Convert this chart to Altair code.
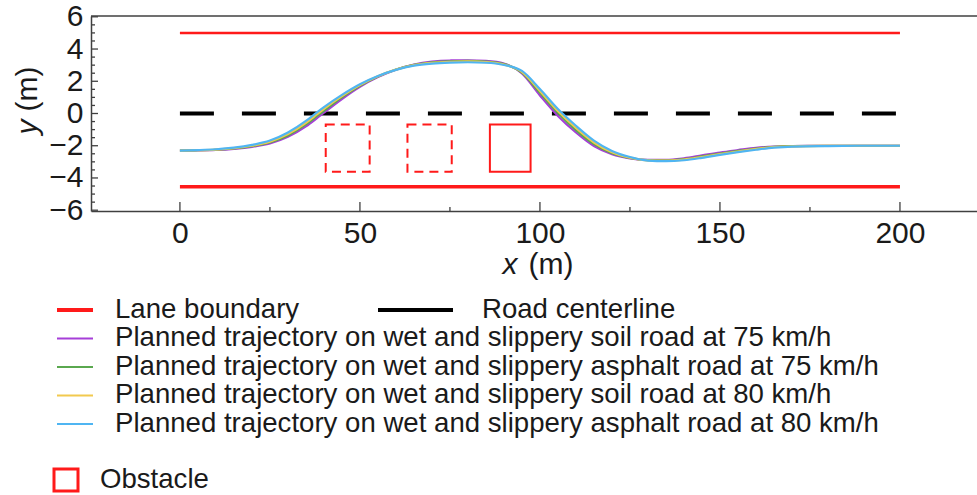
import altair as alt
import pandas as pd

# ---------------- data ----------------
x_samples = [0, 5, 10, 15, 20, 25, 30, 35, 38, 40, 45, 50, 55, 60, 65, 70, 75, 80, 85, 90,
             95, 100, 105, 110, 115, 120, 125, 130, 135, 140, 145, 150, 155, 160, 165, 170,
             180, 190, 200]

y_soil_75 = [-2.30, -2.29, -2.26, -2.19, -2.07, -1.86, -1.45, -0.80, -0.30, 0.05, 0.90, 1.66,
             2.26, 2.72, 3.04, 3.22, 3.29, 3.30, 3.26, 3.10, 2.48, 1.12, -0.15, -1.18, -2.02,
             -2.52, -2.78, -2.88, -2.88, -2.78, -2.60, -2.42, -2.27, -2.13, -2.05, -2.02,
             -2.01, -2.00, -2.00]
y_asphalt_75 = [-2.30, -2.28, -2.25, -2.17, -2.03, -1.80, -1.36, -0.68, -0.17, 0.17, 1.00, 1.72,
                2.29, 2.73, 3.02, 3.18, 3.24, 3.26, 3.22, 3.07, 2.53, 1.28, 0.03, -1.03, -1.90,
                -2.46, -2.76, -2.89, -2.91, -2.83, -2.66, -2.48, -2.32, -2.17, -2.07, -2.03,
                -2.01, -2.00, -2.00]
y_soil_80 = [-2.30, -2.28, -2.24, -2.15, -2.00, -1.75, -1.28, -0.58, -0.06, 0.29, 1.08, 1.77,
             2.31, 2.72, 3.00, 3.14, 3.21, 3.23, 3.19, 3.04, 2.58, 1.40, 0.15, -0.90, -1.80,
             -2.40, -2.74, -2.91, -2.93, -2.86, -2.70, -2.52, -2.36, -2.21, -2.09, -2.04,
             -2.01, -2.00, -2.00]
y_asphalt_80 = [-2.30, -2.27, -2.22, -2.12, -1.95, -1.68, -1.18, -0.46, 0.06, 0.40, 1.16, 1.82,
                2.33, 2.71, 2.97, 3.10, 3.16, 3.18, 3.15, 3.01, 2.64, 1.52, 0.28, -0.76, -1.68,
                -2.32, -2.70, -2.92, -2.96, -2.90, -2.75, -2.57, -2.40, -2.25, -2.12, -2.05,
                -2.02, -2.00, -2.00]

series_labels = [
    "Planned trajectory on wet and slippery soil road at 75 km/h",
    "Planned trajectory on wet and slippery asphalt road at 75 km/h",
    "Planned trajectory on wet and slippery soil road at 80 km/h",
    "Planned trajectory on wet and slippery asphalt road at 80 km/h",
]
series_values = [y_soil_75, y_asphalt_75, y_soil_80, y_asphalt_80]
series_colors = ["#a63fd8", "#5aa84f", "#f2c94f", "#4fb5f2"]

road_x = [0, 200]
lane_upper_y = 5.0
lane_lower_y = -4.55
centerline_y = 0.0

obstacle_x0 = [40.5, 63.2, 86.1]
obstacle_x1 = [52.7, 75.5, 97.4]
obstacle_bottom = [-3.62, -3.62, -3.62]
obstacle_top = [-0.68, -0.68, -0.68]

x_major = [0, 50, 100, 150, 200]
x_minor = [25, 75, 125, 175]
y_major = [-6, -4, -2, 0, 2, 4, 6]
y_minor = [-5.5, -5, -4.5, -3.5, -3, -2.5, -1.5, -1, -0.5, 0.5, 1, 1.5, 2.5, 3, 3.5, 4.5, 5, 5.5]

legend_lane = "Lane boundary"
legend_center = "Road centerline"
legend_obstacle = "Obstacle"

# ---------------- layout ----------------
W, H = 886, 195
FONT = "Liberation Sans"
INK = "#1a1a1a"
FRAME = "#404040"
RED = "#ff1a1a"
LEGEND_SIZE = 27.6

xs = alt.Scale(domain=[-24.7, 221.4], nice=False, zero=False)
ys = alt.Scale(domain=[-6.05, 6.05], nice=False, zero=False)

x_axis = alt.Axis(values=x_major, title=None, ticks=False, tickSize=0, grid=False,
                  labelFontSize=30, labelFont=FONT, labelColor=INK, labelPadding=7,
                  domainColor=FRAME, domainWidth=1.5, labelFlush=False)
y_axis = alt.Axis(values=y_major, title=None, ticks=False, tickSize=0, grid=False,
                  labelFontSize=30, labelFont=FONT, labelColor=INK, labelPadding=8,
                  domainColor=FRAME, domainWidth=1.5, labelFlush=False)


def X(field):
    return alt.X(field, type="quantitative", scale=xs, axis=x_axis)


def Y(field):
    return alt.Y(field, type="quantitative", scale=ys, axis=y_axis)


layers = []

# lane boundaries and centerline
lanes = pd.DataFrame({"x0": [road_x[0]], "x1": [road_x[1]],
                      "yu": [lane_upper_y], "yl": [lane_lower_y], "yc": [centerline_y]})
layers.append(alt.Chart(lanes).mark_rule(color=RED, strokeWidth=2.5)
              .encode(x=X("x0"), x2="x1", y=Y("yu")))
layers.append(alt.Chart(lanes).mark_rule(color=RED, strokeWidth=3.5)
              .encode(x=X("x0"), x2="x1", y=Y("yl")))
layers.append(alt.Chart(lanes).mark_rule(color="black", strokeWidth=4, strokeDash=[34, 28])
              .encode(x=X("x0"), x2="x1", y=Y("yc")))

# obstacles: the first two dashed, the last one solid
obst = pd.DataFrame({"x0": obstacle_x0, "x1": obstacle_x1,
                     "y0": obstacle_bottom, "y1": obstacle_top, "i": [0, 1, 2]})
layers.append(alt.Chart(obst).transform_filter("datum.i < 2")
              .mark_rect(filled=False, color=RED, strokeWidth=2, strokeDash=[9, 6])
              .encode(x=X("x0"), x2="x1", y=Y("y0"), y2="y1"))
layers.append(alt.Chart(obst).transform_filter("datum.i == 2")
              .mark_rect(filled=False, color=RED, strokeWidth=2)
              .encode(x=X("x0"), x2="x1", y=Y("y0"), y2="y1"))

# trajectories
for label, vals, col in zip(series_labels, series_values, series_colors):
    df = pd.DataFrame({"x": x_samples, "y": vals, "s": label})
    layers.append(alt.Chart(df).mark_line(color=col, strokeWidth=2.2, interpolate="monotone")
                  .encode(x=X("x"), y=Y("y")))

# inward tick marks and the top frame line
layers.append(alt.Chart(pd.DataFrame({"t": x_major})).mark_rule(color=FRAME, strokeWidth=1.3)
              .encode(x=X("t"), y=alt.value(H), y2=alt.value(H - 9)))
layers.append(alt.Chart(pd.DataFrame({"t": x_minor})).mark_rule(color=FRAME, strokeWidth=1.3)
              .encode(x=X("t"), y=alt.value(H), y2=alt.value(H - 4)))
layers.append(alt.Chart(pd.DataFrame({"t": y_major})).mark_rule(color=FRAME, strokeWidth=1.3)
              .encode(y=Y("t"), x=alt.value(0), x2=alt.value(7)))
layers.append(alt.Chart(pd.DataFrame({"t": y_minor})).mark_rule(color=FRAME, strokeWidth=1.3)
              .encode(y=Y("t"), x=alt.value(0), x2=alt.value(4)))
one = pd.DataFrame({"k": [0]})
layers.append(alt.Chart(one).mark_rule(color=FRAME, strokeWidth=1.5)
              .encode(x=alt.value(0), x2=alt.value(W), y=alt.value(0)))

# axis titles with an italic variable name
def txt(s, x, y, size=30, style="normal", angle=0, align="left"):
    return (alt.Chart(pd.DataFrame({"s": [s]}))
            .mark_text(font=FONT, fontSize=size, fontStyle=style, color=INK,
                       align=align, baseline="alphabetic", angle=angle)
            .encode(text="s:N", x=alt.value(x), y=alt.value(y)))

layers.append(txt("x", 419, 258, style="italic", align="center"))
layers.append(txt("(m)", 460, 258, align="center"))
layers.append(txt("y", -54, 111, style="italic", angle=270, align="center"))
layers.append(txt("(m)", -54, 73, angle=270, align="center"))

# legend
def sym(x0, x1, y, color, width):
    return (alt.Chart(one).mark_rule(color=color, strokeWidth=width)
            .encode(x=alt.value(x0), x2=alt.value(x1), y=alt.value(y)))

row0 = 294
layers.append(sym(-34, 2, row0, RED, 4))
layers.append(txt(legend_lane, 24, row0 + 7.5, size=LEGEND_SIZE))
layers.append(sym(287, 362, row0, "black", 4))
layers.append(txt(legend_center, 391, row0 + 7.5, size=LEGEND_SIZE))
for k, (label, col) in enumerate(zip(series_labels, series_colors)):
    ry = row0 + 28.5 * (k + 1)
    layers.append(sym(-34, 2, ry, col, 2))
    layers.append(txt(label, 24, ry + 7.5, size=LEGEND_SIZE))

layers.append(alt.Chart(one).mark_rect(filled=False, color=RED, strokeWidth=3)
              .encode(x=alt.value(-37), x2=alt.value(-13), y=alt.value(453), y2=alt.value(475)))
layers.append(txt(legend_obstacle, 9, 472, size=LEGEND_SIZE))

chart = (alt.layer(*layers)
         .properties(width=W, height=H,
                     padding={"left": 91, "top": 16, "right": 0, "bottom": 284},
                     autosize=alt.AutoSizeParams(type="none"),
                     background="white")
         .configure_view(stroke=None))

chart.save("out.html", embed_options={"renderer": "svg", "actions": False})
